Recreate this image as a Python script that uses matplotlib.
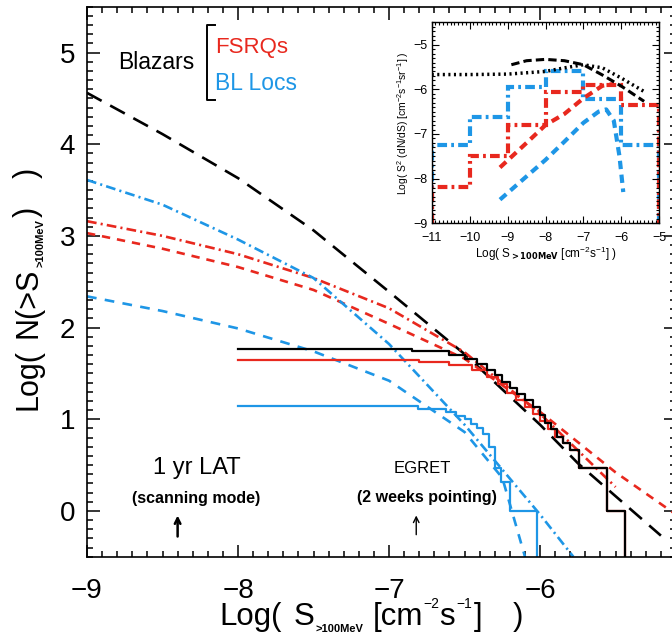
import numpy as np
import matplotlib
matplotlib.use('Agg')
import matplotlib.pyplot as plt
from matplotlib.ticker import MultipleLocator
from matplotlib.transforms import IdentityTransform

RED = '#e8281e'
BLUE = '#1e96e6'

# main panel: model curves, log N(>S) vs log S
bz_x = [-9.0, -8.5, -8.0, -7.5, -7.0, -6.5, -6.0, -5.75, -5.5, -5.2]
bz_y = [4.56, 4.11, 3.63, 3.06, 2.39, 1.71, 0.94, 0.52, 0.16, -0.27]
fsrq1_x = [-9.0, -8.5, -8.0, -7.5, -7.0, -6.5, -6.0, -5.5]
fsrq1_y = [3.16, 3.00, 2.80, 2.54, 2.21, 1.73, 1.06, 0.26]
fsrq2_x = [-9.0, -8.5, -8.0, -7.5, -7.0, -6.5, -6.0, -5.5, -5.1]
fsrq2_y = [3.03, 2.86, 2.66, 2.41, 2.04, 1.66, 1.08, 0.42, -0.04]
bll1_x = [-9.0, -8.5, -8.0, -7.5, -7.0, -6.5, -6.0, -5.78]
bll1_y = [3.61, 3.34, 2.96, 2.54, 1.82, 0.94, -0.04, -0.5]
bll2_x = [-9.0, -8.5, -8.0, -7.5, -7.0, -6.5, -6.25, -6.1]
bll2_y = [2.34, 2.18, 1.99, 1.74, 1.42, 0.86, 0.36, -0.5]

# EGRET cumulative counts (step edges)
egret_bz_x = [-8.0, -6.85, -6.6, -6.5, -6.42, -6.35, -6.3, -6.25, -6.2, -6.15, -6.1,
              -6.05, -6.0, -5.97, -5.93, -5.89, -5.85, -5.8, -5.74, -5.56, -5.44]
egret_bz_y = [1.77, 1.74, 1.70, 1.66, 1.60, 1.54, 1.48, 1.41, 1.34, 1.28, 1.21,
              1.13, 1.05, 0.96, 0.89, 0.81, 0.74, 0.66, 0.47, 0.0, -0.5]
egret_fsrq_x = [-8.0, -6.8, -6.6, -6.45, -6.35, -6.28, -6.22, -6.16, -6.1, -6.05,
                -6.0, -5.95, -5.9, -5.85, -5.8, -5.74, -5.56, -5.44]
egret_fsrq_y = [1.65, 1.62, 1.59, 1.54, 1.46, 1.38, 1.29, 1.21, 1.13, 1.06,
                0.98, 0.89, 0.81, 0.74, 0.66, 0.47, 0.0, -0.5]
egret_bll_x = [-8.0, -6.81, -6.62, -6.56, -6.5, -6.46, -6.42, -6.38, -6.34, -6.30,
               -6.26, -6.20, -6.02]
egret_bll_y = [1.14, 1.11, 1.08, 1.04, 1.00, 0.95, 0.90, 0.84, 0.70, 0.47,
               0.31, 0.0, -0.5]

# inset: S^2 dN/dS
ins_dot_x = [-11, -10, -9, -8, -7.5, -7, -6.5, -6, -5.5, -5.4]
ins_dot_y = [-5.67, -5.67, -5.66, -5.60, -5.52, -5.45, -5.52, -5.75, -6.0, -6.05]
ins_dash_x = [-8.9, -8.5, -8.0, -7.5, -7.0, -6.5, -6.0, -5.4]
ins_dash_y = [-5.45, -5.36, -5.33, -5.36, -5.45, -5.68, -5.93, -6.27]
ins_edges = [-11, -10, -9, -8, -7, -6, -5]
ins_fsrq_h = [-8.18, -7.50, -6.79, -6.07, -5.90, -6.35]
ins_bll_h = [-7.24, -6.62, -5.95, -5.60, -6.22, -7.24]
ins_fsrq_x = [-9.2, -8.5, -8.0, -7.5, -7.0, -6.5, -6.2]
ins_fsrq_y = [-7.75, -7.20, -6.80, -6.55, -6.20, -5.92, -5.88]
ins_bll_x = [-9.2, -8.5, -8.0, -7.5, -7.0, -6.6, -6.4, -6.2, -6.05, -5.95]
ins_bll_y = [-8.47, -7.95, -7.58, -7.17, -6.75, -6.50, -6.45, -6.70, -7.50, -8.30]

plt.rcParams['font.family'] = ['Liberation Sans', 'DejaVu Sans']
plt.rcParams['mathtext.default'] = 'regular'
plt.rcParams['lines.scale_dashes'] = False

fig = plt.figure(figsize=(6.72, 6.44), dpi=100)
ax = fig.add_axes([87 / 672, 87.3 / 644, 589 / 672, 550 / 644])


def pieces(x, y, parts, rot=0):
    # parts: (text, size, shift_px, gap_px, bold); laid out along the baseline
    r = fig.canvas.get_renderer()
    for s, size, shift, gap, bold in parts:
        w = 'bold' if bold else 'normal'
        if rot == 0:
            x += gap
            t = fig.text(x, y + shift, s, fontsize=size, fontweight=w,
                         transform=IdentityTransform(), ha='left', va='baseline')
            x += t.get_window_extent(r).width
        else:
            y += gap
            t = fig.text(x - shift, y, s, fontsize=size, fontweight=w, rotation=90,
                         rotation_mode='anchor', transform=IdentityTransform(),
                         ha='left', va='baseline')
            y += t.get_window_extent(r).height


ax.plot(bz_x, bz_y, color='black', lw=1.9, dashes=(12, 7))
ax.plot(fsrq1_x, fsrq1_y, color=RED, lw=1.9, dashes=(7, 3, 1.5, 3))
ax.plot(fsrq2_x, fsrq2_y, color=RED, lw=1.9, dashes=(6, 5))
ax.plot(bll1_x, bll1_y, color=BLUE, lw=1.9, dashes=(7, 3, 1.5, 3))
ax.plot(bll2_x, bll2_y, color=BLUE, lw=1.9, dashes=(7, 6))

ax.plot(egret_bll_x, egret_bll_y, color=BLUE, lw=1.6, drawstyle='steps-post')
ax.plot(egret_fsrq_x, egret_fsrq_y, color=RED, lw=1.6, drawstyle='steps-post')
ax.plot(egret_bz_x, egret_bz_y, color='black', lw=1.6, drawstyle='steps-post')

ax.set_xlim(-9, -5.1)
ax.set_ylim(-0.5, 5.5)
ax.xaxis.set_major_locator(MultipleLocator(1))
ax.xaxis.set_minor_locator(MultipleLocator(0.1))
ax.yaxis.set_major_locator(MultipleLocator(1))
ax.yaxis.set_minor_locator(MultipleLocator(0.1))
ax.tick_params(which='both', direction='in', top=True, right=True, width=1.1)
ax.tick_params(which='major', length=9, labelsize=20)
ax.tick_params(axis='x', which='major', pad=15)
ax.tick_params(axis='y', which='major', pad=8.5)
ax.tick_params(which='minor', length=4.5)
for s in ax.spines.values():
    s.set_linewidth(1.2)

# axis titles built piecewise so the subscripts stay small
pieces(219, 644 - 625, [('Log(', 22.5, 0, 0, False), ('S', 22.5, 0, 12, False),
                        ('>100MeV', 8, -7, 1, True), ('[cm', 22.5, 0, 10, False),
                        ('\u22122', 10, 17, 0, False), ('s', 22.5, 0, 0, False),
                        ('\u22121', 10, 17, 1, False), (']', 22.5, 0, 2, False),
                        (')', 22.5, 0, 30, False)])
pieces(36, 644 - 410, [('Log(', 22, 0, 0, False), ('N(>S', 22, 0, 11, False),
                       ('>100MeV', 8, -7, 1, True), (')', 22, 0, 2, False),
                       (')', 22, 0, 28, False)], rot=90)

# legend-like labels
ax.text(-8.54, 4.89, 'Blazars', fontsize=16.5, ha='center', va='center')
ax.text(-8.15, 5.05, 'FSRQs', fontsize=16, color=RED, ha='left', va='center')
ax.text(-8.15, 4.66, 'BL Locs', fontsize=16.5, color=BLUE, ha='left', va='center')
ax.plot([0.217, 0.204, 0.204, 0.217], [0.967, 0.967, 0.830, 0.830],
        color='black', lw=1.4, transform=ax.transAxes, clip_on=False)

ax.text(-8.27, 0.47, '1 yr LAT', fontsize=17, ha='center', va='center')
ax.text(-8.28, 0.13, '(scanning mode)', fontsize=11.5, fontweight='bold',
        ha='center', va='center')
ax.annotate('', xy=(-8.4, -0.02), xytext=(-8.4, -0.31),
            arrowprops=dict(arrowstyle='->', lw=1.8, color='black'))
ax.text(-6.78, 0.46, 'EGRET', fontsize=12, ha='center', va='center')
ax.text(-6.75, 0.145, '(2 weeks pointing)', fontsize=11.5, fontweight='bold',
        ha='center', va='center')
ax.annotate('', xy=(-6.82, -0.02), xytext=(-6.82, -0.29),
            arrowprops=dict(arrowstyle='->', lw=1.0, color='black'))

# inset
ins = fig.add_axes([431.7 / 672, 1 - 223.3 / 644, 227.6 / 672, 201 / 644])
ins.stairs(ins_bll_h, ins_edges, baseline=-9, color=BLUE, lw=3,
           linestyle=(0, (7, 3, 2, 3)))
ins.stairs(ins_fsrq_h, ins_edges, baseline=-9, color=RED, lw=3,
           linestyle=(0, (7, 3, 2, 3)))
ins.plot(ins_bll_x, ins_bll_y, color=BLUE, lw=3, dashes=(6, 4))
ins.plot(ins_fsrq_x, ins_fsrq_y, color=RED, lw=3, dashes=(6, 4))
ins.plot(ins_dot_x, ins_dot_y, color='black', lw=2.5, dashes=(1.5, 2.5))
ins.plot(ins_dash_x, ins_dash_y, color='black', lw=2.2, dashes=(6, 3))
ins.set_xlim(-11, -5)
ins.set_ylim(-9, -4.5)
ins.xaxis.set_major_locator(MultipleLocator(1))
ins.xaxis.set_minor_locator(MultipleLocator(0.1))
ins.yaxis.set_major_locator(MultipleLocator(1))
ins.yaxis.set_minor_locator(MultipleLocator(0.1))
ins.tick_params(which='both', direction='in', top=True, right=True, width=0.8)
ins.tick_params(which='major', length=5, labelsize=9)
ins.tick_params(which='minor', length=2.5)
ins.tick_params(axis='x', which='major', pad=6)
ins.tick_params(axis='y', which='major', pad=3)
for s in ins.spines.values():
    s.set_linewidth(1.0)
ins.set_xlabel(r'Log( S$_{\mathbf{>100MeV}}$ [cm$^{-2}$s$^{-1}$] )', fontsize=8.5, labelpad=1)
ins.set_ylabel(r'Log( S$^{2}$ (dN/dS) [cm$^{-2}$s$^{-1}$sr$^{-1}$] )', fontsize=7.5, labelpad=2)

fig.savefig('out.png', dpi=100)
